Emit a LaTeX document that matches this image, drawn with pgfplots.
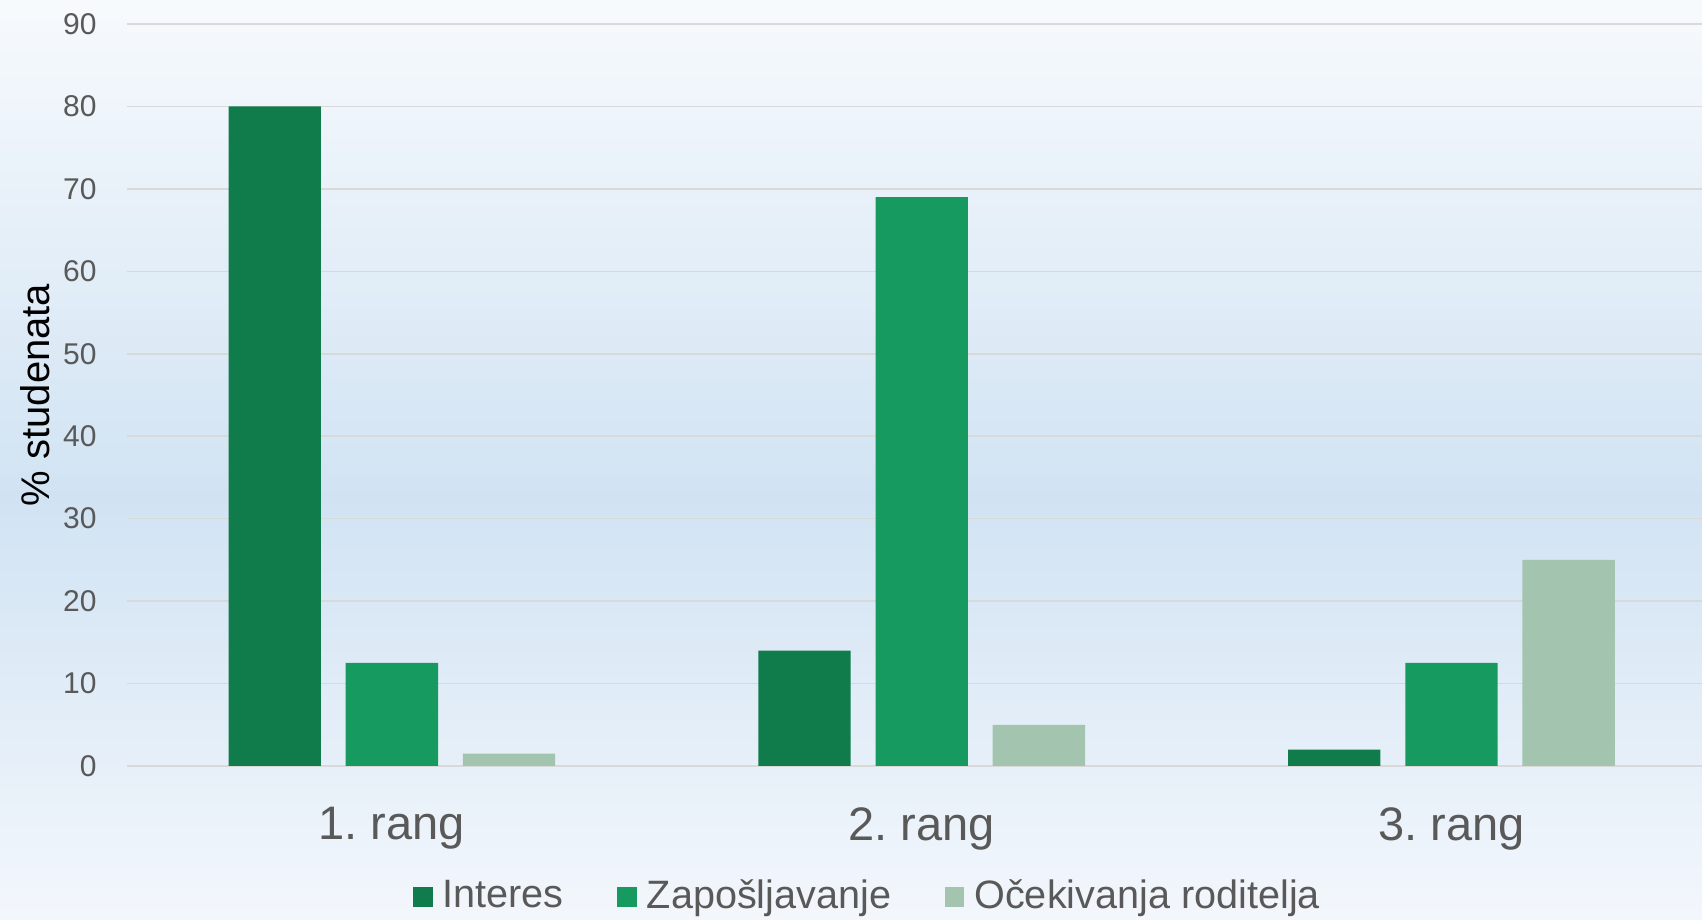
\documentclass[border=0pt]{standalone}
\usepackage{fontspec}
\setmainfont{Liberation Sans}
\usepackage{pgfplots}
\pgfplotsset{compat=1.18}
\definecolor{cInt}{RGB}{16,124,76}
\definecolor{cZap}{RGB}{23,154,95}
\definecolor{cOce}{RGB}{163,197,176}
\definecolor{tickc}{RGB}{89,89,89}
\definecolor{gridc}{RGB}{217,217,217}
\definecolor{bgtop}{RGB}{247,250,253}
\definecolor{bgmid}{RGB}{209,227,243}
\definecolor{bgbot}{RGB}{243,247,252}
\pgfdeclareverticalshading{bgshade}{100bp}{color(0bp)=(bgbot); color(25bp)=(bgbot); color(48bp)=(bgmid); color(75bp)=(bgtop); color(100bp)=(bgtop)}
\begin{document}
\frenchspacing
\begin{tikzpicture}
\path[use as bounding box] (0pt,0pt) rectangle (425.5pt,230pt);
\path[shading=bgshade] (0pt,0pt) rectangle (425.5pt,230pt);
\begin{axis}[
  at={(31.75pt,38.5pt)}, anchor=south west,
  scale only axis, width=393.75pt, height=185.5pt,
  xmin=-0.5, xmax=2.473, ymin=0, ymax=90, clip=false,
  ytick={0,10,...,90},
  xtick={0,1,2}, xticklabels={1. rang,2. rang,3. rang},
  ymajorgrids, major grid style={gridc, line width=0.4pt},
  axis line style={draw=none}, tick style={draw=none},
  /pgf/number format/assume math mode=true,
  yticklabel style={font=\fontsize{7.5}{9}\selectfont, text=tickc, inner sep=0pt, anchor=east, xshift=-7.4pt},
  xticklabel style={font=\fontsize{11.75}{14}\selectfont\frenchspacing, text=tickc, inner sep=0pt, anchor=north, yshift=-5.9pt},
  ylabel={\% studenata},
  ylabel style={font=\fontsize{10}{12}\selectfont, text=black, at={(axis description cs:-0.0584,0.5)}, anchor=center},
  ybar=6.23pt, bar width=23.07pt,
  legend columns=3,
  legend style={at={(0.4695,-0.1765)}, anchor=center, draw=none, fill=none,
    font=\fontsize{9.9}{12}\selectfont, text=tickc, nodes={inner sep=0pt},
    /tikz/every even column/.append style={column sep=13.4pt}},
  legend image code/.code={\fill[#1] (0pt,-2.45pt) rectangle (4.9pt,2.45pt); \path (7.4pt,0pt);},
]
\addplot[fill=cInt, draw=none] coordinates {(0,80) (1,14) (2,2)};
\addplot[fill=cZap, draw=none] coordinates {(0,12.5) (1,69) (2,12.5)};
\addplot[fill=cOce, draw=none] coordinates {(0,1.5) (1,5) (2,25)};
\legend{Interes, Zapošljavanje, Očekivanja roditelja}
\end{axis}
\end{tikzpicture}
\end{document}
